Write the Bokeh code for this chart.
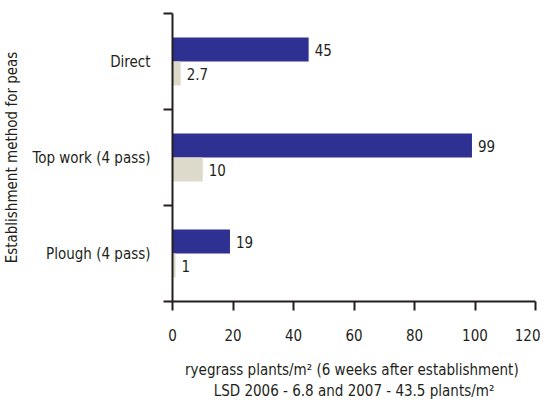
from bokeh.plotting import figure
from bokeh.models import ColumnDataSource, Range1d, FixedTicker
from bokeh.embed import file_html
from bokeh.resources import INLINE
from bokeh.core.properties import value

categories = ["Direct", "Top work (4 pass)", "Plough (4 pass)"]
y2006 = [45, 99, 19]
y2007 = [2.7, 10, 1]
lab2006 = ["45", "99", "19"]
lab2007 = ["2.7", "10", "1"]
x_ticks = [0, 20, 40, 60, 80, 100, 120]

FONT = "DejaVu Sans Condensed"
TXT = "#231F20"
BLUE = "#2E3192"
BEIGE = "#DDDACB"

n = len(categories)
centers = [n - i - 0.5 for i in range(n)]

src_a = ColumnDataSource(dict(y=[c + 0.125 for c in centers], v=y2006, lab=lab2006))
src_b = ColumnDataSource(dict(y=[c - 0.125 for c in centers], v=y2007, lab=lab2007))

p = figure(frame_width=363, frame_height=288,
           x_range=Range1d(0, 120), y_range=Range1d(0, n),
           output_backend="svg", toolbar_location=None,
           min_border_left=172, min_border_top=13, min_border_right=5, min_border_bottom=80)
p.outline_line_color = None
p.grid.grid_line_color = None
p.background_fill_color = "white"

p.hbar(y="y", left=0, right="v", height=0.25, source=src_a, color=BLUE, line_color=None)
p.hbar(y="y", left=0, right="v", height=0.25, source=src_b, color=BEIGE, line_color=None)

for s in (src_a, src_b):
    p.text(x="v", y="y", text="lab", source=s, x_offset=6, text_align="left",
           text_baseline="middle", text_font=value(FONT), text_font_size="15px",
           text_color=TXT)

# x axis
xa = p.xaxis[0]
xa.ticker = FixedTicker(ticks=x_ticks, minor_ticks=[])
xa.axis_line_width = 2
xa.axis_line_color = TXT
xa.major_tick_line_width = 2
xa.major_tick_line_color = TXT
xa.major_tick_out = 9
xa.major_tick_in = 0
xa.minor_tick_line_color = None
xa.major_label_standoff = 18
xa.major_label_text_font = FONT
xa.major_label_text_font_size = "15px"
xa.major_label_text_color = TXT
xa.axis_label = "ryegrass plants/m\u00b2  (6 weeks after establishment)\nLSD 2006 - 6.8 and 2007 - 43.5 plants/m\u00b2"
xa.axis_label_text_font = FONT
xa.axis_label_text_font_size = "15px"
xa.axis_label_text_font_style = "normal"
xa.axis_label_text_color = TXT
xa.axis_label_standoff = 17
xa.axis_label_text_line_height = 1.2

# y axis
ya = p.yaxis[0]
ya.ticker = FixedTicker(ticks=centers, minor_ticks=list(range(n + 1)))
ya.major_label_overrides = {c: categories[i] for i, c in enumerate(centers)}
ya.axis_line_width = 2
ya.axis_line_color = TXT
ya.major_tick_line_color = None
ya.major_tick_out = 0
ya.major_tick_in = 0
ya.minor_tick_line_width = 2
ya.minor_tick_line_color = TXT
ya.minor_tick_out = 9
ya.minor_tick_in = 0
ya.major_label_standoff = 13
ya.major_label_text_font = FONT
ya.major_label_text_font_size = "15px"
ya.major_label_text_color = TXT
ya.axis_label = "Establishment method for peas"
ya.axis_label_text_font = FONT
ya.axis_label_text_font_size = "15px"
ya.axis_label_text_font_style = "normal"
ya.axis_label_text_color = TXT
ya.axis_label_standoff = 8

open("out.html", "w").write(file_html(p, INLINE))
